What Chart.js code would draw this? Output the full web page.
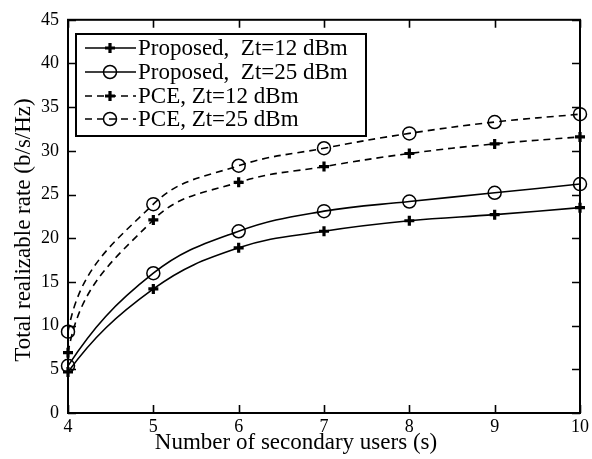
<!DOCTYPE html>
<html><head><meta charset="utf-8">
<script src="https://cdn.jsdelivr.net/npm/chart.js@4"></script>
<style>html,body{margin:0;padding:0;background:#fff}canvas{display:block}</style>
</head><body>
<div style="width:592px;height:459px"><canvas id="c" width="592" height="459"></canvas></div>
<script>
const users = [4, 5, 6, 7, 8, 9, 10];
const proposed12 = [4.7, 14.2, 18.9, 20.8, 22.0, 22.7, 23.5];
const proposed25 = [5.4, 16.0, 20.8, 23.1, 24.2, 25.2, 26.2];
const pce12 = [6.9, 22.1, 26.4, 28.2, 29.7, 30.8, 31.6];
const pce25 = [9.3, 23.9, 28.3, 30.3, 32.0, 33.3, 34.2];
const xTickValues = [4, 5, 6, 7, 8, 9, 10];
const yTickValues = [0, 5, 10, 15, 20, 25, 30, 35, 40, 45];
const seriesLabels = ['Proposed,  Zt=12 dBm', 'Proposed,  Zt=25 dBm', 'PCE, Zt=12 dBm', 'PCE, Zt=25 dBm'];
const xTitle = 'Number of secondary users (s)';
const yTitle = 'Total realizable rate (b/s/Hz)';

const FONT = "'Liberation Serif', 'DejaVu Serif', serif";
const DASH = [7, 5];

function pts(arr) { return users.map((x, i) => ({x: x, y: arr[i]})); }
function ds(label, arr, style, dashed, startBend) {
  const cross = style === 'cross';
  return {
    label: label, data: pts(arr),
    borderColor: '#000', backgroundColor: 'rgba(0,0,0,0)',
    borderWidth: 1.6, borderDash: dashed ? DASH : [],
    tension: 0.4,
    pointStyle: style, pointRadius: cross ? 5 : 6.5,
    pointBorderWidth: cross ? 3.2 : 1.5,
    pointBorderColor: '#000', pointBackgroundColor: 'rgba(0,0,0,0)',
    clip: false,
    startBend: startBend
  };
}

// make the first segment leave the first point more steeply (log-like start)
const startCurve = {
  id: 'startCurve',
  beforeDatasetDraw(chart, args) {
    const meta = args.meta;
    const d = chart.data.datasets[args.index];
    if (!d.startBend) return;
    const line = meta.dataset;
    line.updateControlPoints(chart.chartArea, 'x');
    const p = meta.data;
    if (p.length < 2) return;
    const dx = p[1].x - p[0].x, dy = p[1].y - p[0].y;
    p[0].cp2x = p[0].x + d.startBend[0] * dx;
    p[0].cp2y = p[0].y + d.startBend[1] * dy;
    line._path = undefined;
  }
};

const frame = {
  id: 'frame',
  beforeDatasetsDraw(chart) {
    const {ctx, chartArea: a, scales} = chart;
    ctx.save();
    ctx.strokeStyle = '#000';
    ctx.lineWidth = 1.6;
    const tl = 8;
    ctx.beginPath();
    xTickValues.forEach(v => {
      const px = Math.round(scales.x.getPixelForValue(v)) + 0.5;
      ctx.moveTo(px, a.bottom); ctx.lineTo(px, a.bottom - tl);
      ctx.moveTo(px, a.top); ctx.lineTo(px, a.top + tl);
    });
    yTickValues.forEach(v => {
      const py = Math.round(scales.y.getPixelForValue(v)) + 0.5;
      ctx.moveTo(a.left, py); ctx.lineTo(a.left + tl, py);
      ctx.moveTo(a.right, py); ctx.lineTo(a.right - tl, py);
    });
    ctx.stroke();
    ctx.lineWidth = 2;
    ctx.strokeRect(a.left, a.top, a.right - a.left, a.bottom - a.top);
    ctx.fillStyle = '#000';
    ctx.font = '23px ' + FONT;
    ctx.textAlign = 'center';
    ctx.textBaseline = 'middle';
    ctx.fillText(xTitle, 296, 443);
    ctx.save();
    ctx.translate(24, 230);
    ctx.rotate(-Math.PI / 2);
    ctx.fillText(yTitle, 0, 0);
    ctx.restore();
    ctx.restore();
  },
  afterDraw(chart) {
    const {ctx} = chart;
    const bx = 76, by = 34, bw = 290, bh = 102;
    ctx.save();
    ctx.fillStyle = '#fff';
    ctx.fillRect(bx, by, bw, bh);
    ctx.strokeStyle = '#000';
    ctx.lineWidth = 2;
    ctx.strokeRect(bx, by, bw, bh);
    const rows = [48, 72, 96, 119];
    chart.data.datasets.forEach((d, i) => {
      const y = rows[i];
      ctx.strokeStyle = '#000';
      ctx.lineWidth = d.borderWidth;
      ctx.setLineDash(d.borderDash);
      ctx.beginPath();
      ctx.moveTo(85, y); ctx.lineTo(136, y);
      ctx.stroke();
      ctx.setLineDash([]);
      ctx.fillStyle = 'rgba(0,0,0,0)';
      ctx.lineWidth = d.pointBorderWidth;
      Chart.helpers.drawPoint(ctx, {
        pointStyle: d.pointStyle, radius: d.pointRadius, borderWidth: d.pointBorderWidth, rotation: 0
      }, 110, y);
      ctx.fillStyle = '#000';
      ctx.font = '23px ' + FONT;
      ctx.textBaseline = 'middle';
      ctx.textAlign = 'left';
      ctx.fillText(d.label, 138, y + 1);
    });
    ctx.restore();
  }
};

new Chart(document.getElementById('c'), {
  type: 'line',
  data: {
    datasets: [
      ds(seriesLabels[0], proposed12, 'cross', false, [0.3, 0.42]),
      ds(seriesLabels[1], proposed25, 'circle', false, [0.3, 0.42]),
      ds(seriesLabels[2], pce12, 'cross', true, [0.14, 0.5]),
      ds(seriesLabels[3], pce25, 'circle', true, [0.14, 0.5])
    ]
  },
  options: {
    responsive: false, animation: false, devicePixelRatio: 1,
    layout: {padding: {top: 19, right: 12, left: 0, bottom: 0}},
    plugins: {legend: {display: false}, tooltip: {enabled: false}},
    scales: {
      x: {
        type: 'linear', min: 4, max: 10,
        afterBuildTicks: s => { s.ticks = xTickValues.map(v => ({value: v})); },
        afterFit: s => { s.height = 46; },
        ticks: {color: '#000', font: {family: FONT, size: 18}, padding: 3, maxRotation: 0},
        grid: {display: false, drawTicks: false},
        border: {display: false}
      },
      y: {
        type: 'linear', min: 0, max: 45,
        afterBuildTicks: s => { s.ticks = yTickValues.map(v => ({value: v})); },
        afterFit: s => { s.width = 68; },
        ticks: {color: '#000', font: {family: FONT, size: 18}, padding: 9},
        grid: {display: false, drawTicks: false},
        border: {display: false}
      }
    }
  },
  plugins: [startCurve, frame]
});
</script>
</body></html>
